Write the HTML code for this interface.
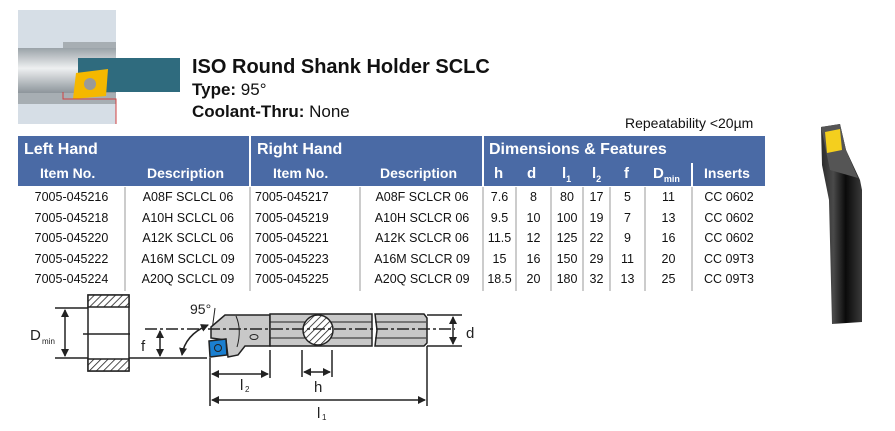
<!DOCTYPE html>
<html><head><meta charset="utf-8"><style>
body{margin:0;width:895px;height:431px;background:#fff;position:relative;overflow:hidden;font-family:"Liberation Sans","DejaVu Sans",sans-serif;}
.a{position:absolute;white-space:nowrap;}
.t{color:#111;}
.hd{position:absolute;background:#4a6aa5;}
.w{color:#fff;font-weight:bold;position:absolute;white-space:nowrap;}
.c{position:absolute;font-size:12.5px;color:#111;text-align:center;white-space:nowrap;}
.sep{position:absolute;background:#ccc;width:2px;top:187px;height:104px;}
</style></head><body>
<svg class="a" style="left:0;top:0" width="190" height="130">
<rect x="18" y="10" width="98" height="114" fill="#d6dee6"/>
<rect x="18" y="42" width="98" height="62" fill="#a7aeb3"/>
<rect x="18" y="42" width="45" height="8" fill="#d6dee6"/>
<linearGradient id="g" x1="0" y1="0" x2="0" y2="1"><stop offset="0" stop-color="#9aa2a8"/><stop offset=".45" stop-color="#eef0f1"/><stop offset="1" stop-color="#8d959b"/></linearGradient>
<rect x="18" y="48" width="98" height="45" fill="url(#g)"/>
<rect x="18" y="35" width="45" height="8" fill="#d6dee6"/>
<rect x="78" y="58" width="102" height="34" fill="#2f6b7e"/>
<polygon points="76,73 108,69 106,96 73,99" fill="#f5b800"/>
<circle cx="90" cy="84" r="6" fill="#9a9a9a"/>
<polyline points="63,92 63,99 116,99 116,124" fill="none" stroke="#d04040" stroke-width="1"/>
</svg>
<div class="a t" style="left:192px;top:56px;font-size:20px;font-weight:bold;">ISO Round Shank Holder SCLC</div>
<div class="a t" style="left:192px;top:80px;font-size:17px;"><b>Type:</b> 95°</div>
<div class="a t" style="left:192px;top:102px;font-size:17px;"><b>Coolant-Thru:</b> None</div>
<div class="a t" style="left:625px;top:115px;font-size:14px;">Repeatability &lt;20µm</div>
<div class="hd" style="left:18px;top:136px;width:747px;height:50px;"></div>
<div class="a" style="left:249px;top:136px;width:2px;height:51px;background:#fff"></div>
<div class="a" style="left:482px;top:136px;width:2px;height:51px;background:#fff"></div>
<div class="a" style="left:691px;top:163px;width:2px;height:24px;background:#fff"></div>
<div class="w" style="left:24px;top:141px;font-size:16px;">Left Hand</div>
<div class="w" style="left:257px;top:141px;font-size:16px;">Right Hand</div>
<div class="w" style="left:489px;top:141px;font-size:16px;">Dimensions &amp; Features</div>
<div class="w" style="left:40px;top:165px;font-size:14px;">Item No.</div>
<div class="w" style="left:147px;top:165px;font-size:14px;">Description</div>
<div class="w" style="left:273px;top:165px;font-size:14px;">Item No.</div>
<div class="w" style="left:380px;top:165px;font-size:14px;">Description</div>
<div class="w" style="left:494px;top:165px;font-size:15px;">h</div>
<div class="w" style="left:527px;top:165px;font-size:15px;">d</div>
<div class="w" style="left:562px;top:165px;font-size:15px;">l<sub style="font-size:9px">1</sub></div>
<div class="w" style="left:592px;top:165px;font-size:15px;">l<sub style="font-size:9px">2</sub></div>
<div class="w" style="left:624px;top:165px;font-size:15px;">f</div>
<div class="w" style="left:653px;top:165px;font-size:15px;">D<sub style="font-size:9px">min</sub></div>
<div class="w" style="left:704px;top:165px;font-size:14px;">Inserts</div>
<div class="sep" style="left:124px"></div><div class="sep" style="left:249px"></div><div class="sep" style="left:359px"></div><div class="sep" style="left:482px"></div>
<div class="sep" style="left:515px"></div><div class="sep" style="left:550px"></div><div class="sep" style="left:582px"></div><div class="sep" style="left:609px"></div><div class="sep" style="left:644px"></div><div class="sep" style="left:691px"></div>
<div id="rows"></div>
<script>
var d=[["7005-045216","A08F SCLCL 06","7005-045217","A08F SCLCR 06","7.6","8","80","17","5","11","CC 0602"],
["7005-045218","A10H SCLCL 06","7005-045219","A10H SCLCR 06","9.5","10","100","19","7","13","CC 0602"],
["7005-045220","A12K SCLCL 06","7005-045221","A12K SCLCR 06","11.5","12","125","22","9","16","CC 0602"],
["7005-045222","A16M SCLCL 09","7005-045223","A16M SCLCR 09","15","16","150","29","11","20","CC 09T3"],
["7005-045224","A20Q SCLCL 09","7005-045225","A20Q SCLCR 09","18.5","20","180","32","13","25","CC 09T3"]];
var cols=[[18,107],[126,124],[251,80],[361,122],[484,31],[517,33],[552,30],[584,25],[611,33],[646,45],[693,72]];
var h="";
for(var r=0;r<5;r++){for(var c=0;c<11;c++){var l=cols[c][0],w=cols[c][1];var s=(c==2)?"text-align:left;padding-left:4px;":"";h+='<div class="c" style="left:'+l+'px;width:'+w+'px;top:'+(190+r*20.6)+'px;'+s+'">'+d[r][c]+'</div>';}}
document.getElementById("rows").innerHTML=h;
</script>
<svg class="a" style="left:0;top:0" width="895" height="431">
<defs>
<pattern id="hat" width="5" height="5" patternUnits="userSpaceOnUse" patternTransform="rotate(45)"><rect width="5" height="5" fill="#fff"/><line x1="0" y1="0" x2="0" y2="5" stroke="#222" stroke-width="1.6"/></pattern>
<marker id="ar" markerWidth="8" markerHeight="8" refX="7" refY="4" orient="auto-start-reverse" markerUnits="userSpaceOnUse"><path d="M0,0 L8,4 L0,8 Z" fill="#222"/></marker>
</defs>
<g stroke="#222" stroke-width="1.5" fill="none">
<rect x="88" y="295" width="41" height="76"/>
<rect x="88" y="295" width="41" height="12" fill="url(#hat)"/>
<rect x="88" y="359" width="41" height="12" fill="url(#hat)"/>
<line x1="83" y1="334" x2="130" y2="334"/>
<line x1="55" y1="308" x2="88" y2="308"/><line x1="55" y1="358" x2="88" y2="358"/>
<line x1="65" y1="310" x2="65" y2="356" marker-start="url(#ar)" marker-end="url(#ar)"/>
<line x1="129" y1="358" x2="207" y2="358"/>
<line x1="160" y1="331" x2="160" y2="356" marker-start="url(#ar)" marker-end="url(#ar)"/>
<path d="M182,355 Q185,335 208,325" marker-start="url(#ar)" marker-end="url(#ar)"/>
<line x1="211" y1="338" x2="215" y2="308" stroke-width="1"/>
<path d="M211,330 L211,327 L225,315 L270,315 L270,346 L245,346 L238,355 L228,357 L226,340 L211,338 Z" fill="#c8c8c8"/>
<rect x="270" y="314" width="102" height="32" fill="#c8c8c8"/>
<path d="M375,314 L424,314 L427,318 L427,343 L424,346 L375,346 L377,330 Z" fill="#c8c8c8"/>
<line x1="270" y1="322" x2="372" y2="322" stroke-width="1"/><line x1="270" y1="338" x2="372" y2="338" stroke-width="1"/>
<line x1="375" y1="322" x2="426" y2="322" stroke-width="1"/><line x1="375" y1="338" x2="426" y2="338" stroke-width="1"/>
<circle cx="318" cy="330" r="15" fill="url(#hat)"/>
<path d="M236,316 Q242,330 237,347" stroke-width="1"/>
<ellipse cx="254" cy="337" rx="4" ry="2.5" stroke-width="1"/>
<line x1="145" y1="329" x2="455" y2="329" stroke-dasharray="12,3,3,3"/>
<polygon points="209,341 226,339 227,355 210,357" fill="#1a7fd0" stroke="#222"/>
<circle cx="218" cy="348" r="3.5" stroke-width="1"/>
<line x1="427" y1="315" x2="462" y2="315"/><line x1="427" y1="346" x2="462" y2="346"/>
<line x1="453" y1="317" x2="453" y2="344" marker-start="url(#ar)" marker-end="url(#ar)"/>
<line x1="210" y1="358" x2="210" y2="406"/><line x1="270" y1="350" x2="270" y2="378"/>
<line x1="302" y1="350" x2="302" y2="377"/><line x1="332" y1="350" x2="332" y2="377"/>
<line x1="427" y1="346" x2="427" y2="406"/>
<line x1="212" y1="374" x2="268" y2="374" marker-start="url(#ar)" marker-end="url(#ar)"/>
<line x1="304" y1="372" x2="330" y2="372" marker-start="url(#ar)" marker-end="url(#ar)"/>
<line x1="212" y1="400" x2="425" y2="400" marker-start="url(#ar)" marker-end="url(#ar)"/>
</g>
<g font-family="Liberation Sans,sans-serif" fill="#222">
<text x="30" y="340" font-size="15">D</text><text x="42" y="344" font-size="8">min</text>
<text x="141" y="351" font-size="15">f</text>
<text x="190" y="314" font-size="14">95°</text>
<text x="466" y="338" font-size="15">d</text>
<text x="240" y="390" font-size="15">l</text><text x="245" y="392" font-size="8">2</text>
<text x="314" y="392" font-size="15">h</text>
<text x="317" y="418" font-size="15">l</text><text x="322" y="420" font-size="8">1</text>
</g>
<linearGradient id="tb" x1="0" y1="0" x2="1" y2="0"><stop offset="0" stop-color="#2a2a2a"/><stop offset=".3" stop-color="#4a4a4a"/><stop offset=".6" stop-color="#0a0a0a"/><stop offset="1" stop-color="#3a3a3a"/></linearGradient>
<path d="M821,127 L840,124 L846,150 L860,180 L862,190 L862,322 L832,324 L829,200 L822,165 Z" fill="url(#tb)"/>
<path d="M821,127 L840,124 L846,150 L858,178 L830,170 Z" fill="#555"/>
<polygon points="825,132 840,129 842,150 827,153" fill="#f4cf1e"/>
</svg>
</body></html>
